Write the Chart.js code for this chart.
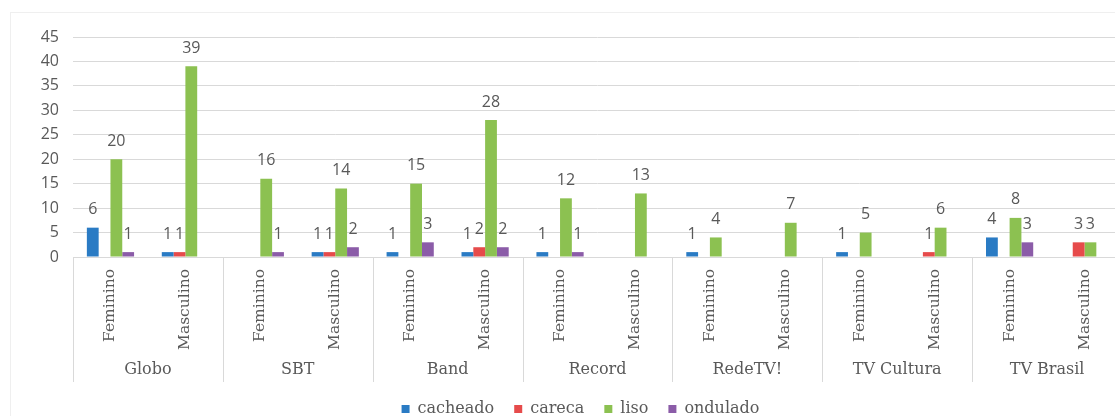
<!DOCTYPE html>
<html>
<head>
<meta charset="utf-8">
<script src="https://cdn.jsdelivr.net/npm/chart.js@4.4.1/dist/chart.umd.min.js"></script>
<style>
  html, body { margin: 0; padding: 0; background: #fff; overflow: hidden; }
  #moldura { position: absolute; left: 10px; top: 12px; width: 1200px; height: 420px;
             border-left: 1px solid #efefef; border-top: 1px solid #efefef; }
  #caixa { position: absolute; left: 0; top: 0; width: 1172px; height: 416px; }
</style>
</head>
<body>
<div id="moldura"></div>
<div id="caixa"><canvas id="grafico"></canvas></div>
<script>
// emissoras e genero (eixo x em dois niveis)
var emissoras = ['Globo', 'SBT', 'Band', 'Record', 'RedeTV!', 'TV Cultura', 'TV Brasil'];
var generos = ['Feminino', 'Masculino'];

// tipo de cabelo, um valor por emissora/genero
var cacheado = [6, 1, 0, 1, 1, 1, 1, 0, 1, 0, 1, 0, 4, 0];
var careca   = [0, 1, 0, 1, 0, 2, 0, 0, 0, 0, 0, 1, 0, 3];
var liso     = [20, 39, 16, 14, 15, 28, 12, 13, 4, 7, 5, 6, 8, 3];
var ondulado = [1, 0, 1, 2, 3, 2, 1, 0, 0, 0, 0, 0, 3, 0];

var ticksY = [0, 5, 10, 15, 20, 25, 30, 35, 40, 45];

var cinza = '#595959';
var linha = '#d9d9d9';
var fonteSerif = '"DejaVu Serif", serif';
var fonteNum = '"Open Sans", sans-serif';

var rotulos = [];
emissoras.forEach(function (e) {
  generos.forEach(function (g) { rotulos.push(g); });
});

// valores em cima das barras (so os diferentes de zero)
const valoresPlugin = {
  id: 'valores',
  afterDatasetsDraw(chart) {
    const ctx = chart.ctx;
    ctx.save();
    ctx.fillStyle = cinza;
    ctx.font = '16px ' + fonteNum;
    ctx.textAlign = 'center';
    ctx.textBaseline = 'middle';
    chart.data.datasets.forEach(function (ds, i) {
      const meta = chart.getDatasetMeta(i);
      meta.data.forEach(function (bar, j) {
        if (ds.data[j] > 0) {
          ctx.fillText(ds.data[j], bar.x, bar.y - 18);
        }
      });
    });
    ctx.restore();
  }
};

// separadores e nomes das emissoras abaixo dos generos
const gruposPlugin = {
  id: 'grupos',
  afterDraw(chart) {
    const x = chart.scales.x;
    const ctx = chart.ctx;
    const base = chart.chartArea.bottom;
    const meio = (x.getPixelForValue(1) - x.getPixelForValue(0)) / 2;
    ctx.save();
    ctx.strokeStyle = linha;
    ctx.lineWidth = 1;
    for (let g = 0; g <= emissoras.length; g++) {
      let px;
      if (g < emissoras.length) px = x.getPixelForValue(g * 2) - meio;
      else px = x.getPixelForValue(g * 2 - 1) + meio;
      px = Math.round(px) + 0.5;
      ctx.beginPath();
      ctx.moveTo(px, base);
      ctx.lineTo(px, base + 125);
      ctx.stroke();
    }
    ctx.fillStyle = cinza;
    ctx.font = '16px ' + fonteSerif;
    ctx.textAlign = 'center';
    ctx.textBaseline = 'middle';
    for (let g = 0; g < emissoras.length; g++) {
      const cx = (x.getPixelForValue(g * 2) + x.getPixelForValue(g * 2 + 1)) / 2;
      ctx.fillText(emissoras[g], cx, base + 113);
    }
    ctx.restore();
  }
};

const config = {
  type: 'bar',
  data: {
    labels: rotulos,
    datasets: [
      { label: 'cacheado', data: cacheado, backgroundColor: '#2a7bc4' },
      { label: 'careca', data: careca, backgroundColor: '#e64b4b' },
      { label: 'liso', data: liso, backgroundColor: '#8cc151' },
      { label: 'ondulado', data: ondulado, backgroundColor: '#8b5ca8' }
    ]
  },
  options: {
    responsive: true,
    maintainAspectRatio: false,
    animation: false,
    categoryPercentage: 0.63,
    barPercentage: 1.0,
    layout: { padding: { left: 39, right: 50, top: 37, bottom: -11 } },
    plugins: {
      legend: {
        position: 'bottom',
        labels: {
          boxWidth: 8,
          boxHeight: 8,
          padding: 20,
          color: cinza,
          font: { family: fonteSerif, size: 16 }
        }
      },
      tooltip: { enabled: false },
      title: { display: false }
    },
    scales: {
      x: {
        grid: { display: false },
        border: { display: true, color: linha },
        ticks: {
          minRotation: 90,
          maxRotation: 90,
          padding: 4,
          color: cinza,
          font: { family: fonteSerif, size: 15.5 }
        },
        afterFit: function (scale) { scale.height = 124; }
      },
      y: {
        min: 0,
        max: 45,
        afterBuildTicks: function (scale) {
          scale.ticks = ticksY.map(function (v) { return { value: v }; });
        },
        grid: { color: linha, drawTicks: false },
        border: { display: false },
        ticks: {
          padding: 14,
          color: cinza,
          font: { family: fonteNum, size: 16 }
        },
        afterFit: function (scale) { scale.width = 34; }
      }
    }
  },
  plugins: [valoresPlugin, gruposPlugin]
};

new Chart(document.getElementById('grafico'), config);
</script>
</body>
</html>
